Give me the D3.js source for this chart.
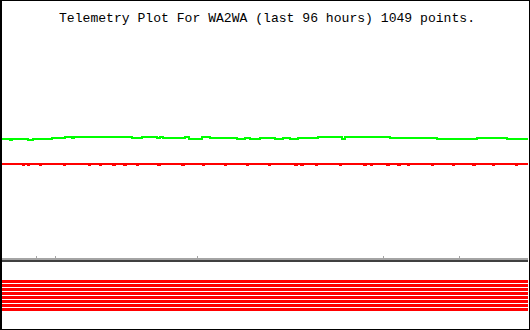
<!DOCTYPE html>
<html><head><meta charset="utf-8">
<script src="https://cdn.jsdelivr.net/npm/d3@7"></script>
<style>html,body{margin:0;padding:0;background:#fff;}svg{display:block;}</style>
</head><body>
<script>
// ---- data ----
const titleText = "Telemetry Plot For WA2WA (last 96 hours) 1049 points.";
const hoursSpan = [0, 96];
// green channel: hours since start, value
const greenHours = [0.0,1.3,1.5,1.8,4.7,5.7,9.1,11.5,12.8,13.1,18.3,18.8,19.3,23.7,25.6,28.3,28.8,29.4,33.4,34.1,36.5,38.0,42.9,44.4,45.3,47.1,49.8,51.3,52.6,54.0,57.7,62.1,62.6,64.4,70.1,70.8,79.4,81.8,86.7,92.2,96.0];
const greenValues = [119,119,118.5,119,118.5,119,120,121,120,121,121,121.5,121,120,121,120.5,121,120,121,119.5,121,120.5,119.5,120.5,119.5,120,119.5,120.5,119.5,120.5,121,119.5,121,121,121.5,120,119.5,119,120.5,119,119];
// red channel: steady level with brief drops
const redLevel = 94;
const redDropValue = 93;
const redDropHours = [3.8,4.7,6.9,11.3,15.9,17.9,20.3,22.3,24.6,28.5,32.9,36.7,40.7,44.7,48.7,53.5,54.6,57.3,61.7,66.1,67.3,70.3,72.3,74.1,78.5,82.3,86.0,89.6,93.8];
// axis tick marks (hours)
const tickHours = [6.2, 9.7, 35.6, 69.5, 83.4];
// status strip channels (1 = on for full period)
const statusChannels = ["s1","s2","s3","s4","s5","s6","s7","s8"];
const statusOn = [1,1,1,1,1,1,1,1];

// ---- drawing ----
const W = 530, H = 330;
const svg = d3.select("body").append("svg").attr("width", W).attr("height", H);
svg.append("rect").attr("width", W).attr("height", H).attr("fill", "#fff");

const x = d3.scaleLinear().domain(hoursSpan).range([2, 528]);
const y = d3.scaleLinear().domain([0, 256]).range([258, 2]);

svg.append("text")
  .attr("x", 59).attr("y", 22)
  .attr("font-family", "Liberation Mono, DejaVu Sans Mono, monospace")
  .attr("font-size", 13.5)
  .attr("textLength", 416)
  .attr("lengthAdjust", "spacingAndGlyphs")
  .attr("fill", "#000")
  .text(titleText);

const line = d3.line().x(d => x(d[0])).y(d => y(d[1])).curve(d3.curveStepAfter);

const greenData = greenHours.map((h, i) => [h, greenValues[i]]);
svg.append("path").datum(greenData)
  .attr("d", line).attr("fill", "none").attr("stroke", "#00ff00")
  .attr("stroke-width", 2).attr("shape-rendering", "crispEdges");

const redData = [[hoursSpan[0], redLevel]];
redDropHours.forEach(h => { redData.push([h, redDropValue]); redData.push([h + 0.25, redLevel]); });
redData.push([hoursSpan[1], redLevel]);
svg.append("path").datum(redData)
  .attr("d", line).attr("fill", "none").attr("stroke", "#ff0000")
  .attr("stroke-width", 2).attr("shape-rendering", "crispEdges");

// axis line (light over dark)
const axisG = svg.append("g").attr("shape-rendering", "crispEdges");
axisG.append("rect").attr("x", x(hoursSpan[0])).attr("y", 258).attr("width", x(hoursSpan[1]) - x(hoursSpan[0])).attr("height", 2).attr("fill", "#a4a4a4");
axisG.append("rect").attr("x", x(hoursSpan[0])).attr("y", 260).attr("width", x(hoursSpan[1]) - x(hoursSpan[0])).attr("height", 2).attr("fill", "#404040");
axisG.selectAll("rect.tick").data(tickHours).enter().append("rect")
  .attr("class", "tick")
  .attr("x", d => Math.round(x(d))).attr("y", 256).attr("width", 1).attr("height", 2)
  .attr("fill", "#a4a4a4");

// status strip
const sy = d3.scaleBand().domain(statusChannels).range([280, 311]).paddingInner(0.25).paddingOuter(0);
svg.append("g").attr("shape-rendering", "crispEdges")
  .selectAll("rect").data(statusChannels.filter((c, i) => statusOn[i])).enter().append("rect")
  .attr("x", x(hoursSpan[0])).attr("width", x(hoursSpan[1]) - x(hoursSpan[0]))
  .attr("y", d => sy(d)).attr("height", sy.bandwidth())
  .attr("fill", "#ff0000");

// frame
const frame = svg.append("g").attr("shape-rendering", "crispEdges").attr("fill", "#000");
frame.append("rect").attr("x", 0).attr("y", 0).attr("width", 2).attr("height", H);
frame.append("rect").attr("x", 0).attr("y", 0).attr("width", W).attr("height", 1);
frame.append("rect").attr("x", W - 1).attr("y", 0).attr("width", 1).attr("height", H);
frame.append("rect").attr("x", 0).attr("y", H - 1).attr("width", W).attr("height", 1);
</script>
</body></html>
